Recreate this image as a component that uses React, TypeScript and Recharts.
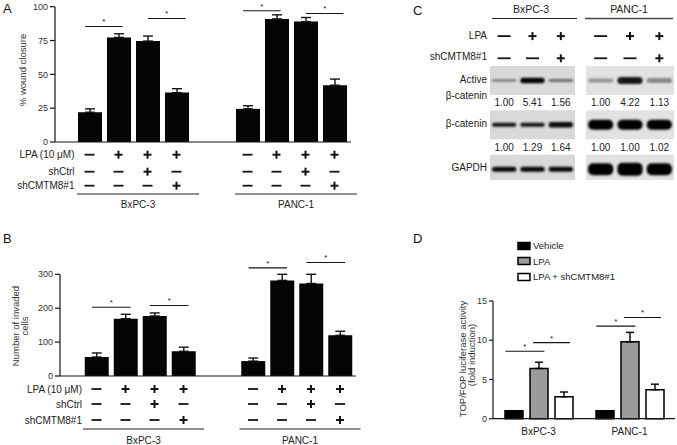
import React from "react";
import {
  BarChart,
  Bar,
  XAxis,
  YAxis,
  ErrorBar,
  LabelList,
  Legend,
  ScatterChart,
  Scatter,
} from "recharts";

const FONT = '"Liberation Sans", Arial, Helvetica, sans-serif';
const INK = "#151515";

// shared
const CELL_LINES = ["BxPC-3", "PANC-1"];
const TABLE_LABELS = ["LPA (10 μM)", "shCtrl", "shCMTM8#1"];
const LPA_ROW = ["−", "+", "+", "+"];
const SHCTRL_ROW = ["−", "−", "+", "−"];
const SHCMTM8_ROW = ["−", "−", "−", "+"];

// A: wound closure (%)
const WOUND_BXPC = [22, 77.3, 74.6, 36.5];
const WOUND_BXPC_ERR = [2.5, 2.7, 3.7, 2.9];
const WOUND_PANC = [24.5, 91, 89, 42];
const WOUND_PANC_ERR = [2.3, 3, 3, 4.5];
const WOUND_SIG_1 = [85.4, 97];
const WOUND_SIG_2 = [91.3, 95];

// B: invaded cells
const INVADED_BXPC = [56, 169, 177, 73];
const INVADED_BXPC_ERR = [12, 13, 9, 12];
const INVADED_PANC = [44, 282, 273, 120];
const INVADED_PANC_ERR = [9, 18, 27, 12];
const INVADED_SIG_1 = [203, 319];
const INVADED_SIG_2 = [208, 335];

// C: western blot
const BLOT_ROWS = ["LPA", "shCMTM8#1", "Active β-catenin", "ratio1", "β-catenin", "ratio2", "GAPDH"];
const BLOT_LPA = ["−", "+", "+"];
const BLOT_SH = ["−", "−", "+"];
const ACTIVE_RATIO_BXPC = ["1.00", "5.41", "1.56"];
const ACTIVE_RATIO_PANC = ["1.00", "4.22", "1.13"];
const TOTAL_RATIO_BXPC = ["1.00", "1.29", "1.64"];
const TOTAL_RATIO_PANC = ["1.00", "1.00", "1.02"];
const ACTIVE_DARK_BXPC = [0.45, 1, 0.5];
const ACTIVE_THICK_BXPC = [2.5, 5.5, 3];
const ACTIVE_DARK_PANC = [0.35, 0.9, 0.4];
const ACTIVE_THICK_PANC = [4, 7, 5];
const TOTAL_DARK_BXPC = [0.9, 0.9, 0.95];
const TOTAL_THICK_BXPC = [4, 4, 5.5];
const TOTAL_DARK_PANC = [1, 1, 1];
const TOTAL_THICK_PANC = [10, 10, 10];
const GAPDH_DARK_BXPC = [0.95, 0.95, 0.95];
const GAPDH_THICK_BXPC = [5, 5, 5];
const GAPDH_DARK_PANC = [1, 1, 1];
const GAPDH_THICK_PANC = [12, 13, 12];

// D: TOP/FOP
const TOPFOP_SERIES = ["Vehicle", "LPA", "LPA + shCMTM8#1"];
const TOPFOP_VEHICLE = [1, 1];
const TOPFOP_LPA = [6.4, 9.8];
const TOPFOP_LPA_ERR = [0.8, 1.2];
const TOPFOP_SH = [2.8, 3.7];
const TOPFOP_SH_ERR = [0.6, 0.7];
const TOPFOP_SIG_1 = [8.6, 11.8];
const TOPFOP_SIG_2 = [9.7, 12.9];

const BAR = 24;
const PITCH = 29;

function fourBarData(vals: number[][], errs: number[][]) {
  return CELL_LINES.map((name, i) => {
    const row: any = { name };
    vals[i].forEach((v, k) => {
      row[`t${k}`] = v;
      row[`e${k}`] = [0, errs[i][k]];
    });
    return row;
  });
}

const woundData = fourBarData([WOUND_BXPC, WOUND_PANC], [WOUND_BXPC_ERR, WOUND_PANC_ERR]);
const invadedData = fourBarData([INVADED_BXPC, INVADED_PANC], [INVADED_BXPC_ERR, INVADED_PANC_ERR]);
const topfopData = CELL_LINES.map((name, i) => ({
  name,
  veh: TOPFOP_VEHICLE[i],
  lpa: TOPFOP_LPA[i],
  lpaErr: [0, TOPFOP_LPA_ERR[i]],
  sh: TOPFOP_SH[i],
  shErr: [0, TOPFOP_SH_ERR[i]],
}));

// significance bracket drawn from a bar's own geometry
function sigContent(heights: number[], pitch: number, a: number, b: number) {
  return (props: any) => {
    const vb = props.viewBox && props.viewBox.width !== undefined ? props.viewBox : props;
    const { x, y, width, height } = vb;
    const value = Number(props.value);
    const idx = props.index;
    if (!height || !value || idx == null) return null;
    const ly = y + height - heights[idx] * (height / value);
    const x1 = x + a * width;
    const x2 = x + pitch + b * width;
    return (
      <g key={`sig-${idx}`}>
        <line x1={x1} x2={x2} y1={ly} y2={ly} stroke={INK} strokeWidth={1.1} />
        <text x={(x1 + x2) / 2} y={ly - 2} textAnchor="middle" fontSize={8} fill={INK} fontFamily={FONT}>
          *
        </text>
      </g>
    );
  };
}

function SignMark({ x, y, sign, minusW }: { x: number; y: number; sign: string; minusW: number }) {
  if (sign === "+") {
    return (
      <g stroke={INK} strokeWidth={2}>
        <line x1={x - 4} y1={y} x2={x + 4} y2={y} />
        <line x1={x} y1={y - 4} x2={x} y2={y + 4} />
      </g>
    );
  }
  return <line x1={x - minusW / 2} y1={y} x2={x + minusW / 2} y2={y} stroke={INK} strokeWidth={1.8} />;
}

type TableCfg = { rowsY: number[]; lineY: number; nameY: number; ext: [number, number]; labelGap: number };

function tableTick(cfg: TableCfg) {
  return (props: any) => {
    const { x, y, payload } = props;
    const ci = CELL_LINES.indexOf(payload.value);
    const rows = [LPA_ROW, SHCTRL_ROW, SHCMTM8_ROW];
    const half = 1.5 * PITCH;
    const left = x - half - cfg.ext[0];
    const right = x + half + cfg.ext[1];
    return (
      <g fontFamily={FONT}>
        {ci === 0 &&
          TABLE_LABELS.map((t, r) => (
            <text key={t} x={x - half - cfg.labelGap} y={y + cfg.rowsY[r]} textAnchor="end" dominantBaseline="central" fontSize={10} fill="#222">
              {t}
            </text>
          ))}
        {rows.map((row, r) =>
          row.map((s, k) => <SignMark key={`${r}-${k}`} x={x + (k - 1.5) * PITCH} y={y + cfg.rowsY[r]} sign={s} minusW={10} />)
        )}
        <line x1={left} x2={right} y1={y + cfg.lineY} y2={y + cfg.lineY} stroke="#222" strokeWidth={1} />
        <text x={(left + right) / 2} y={y + cfg.nameY} textAnchor="middle" dominantBaseline="central" fontSize={10} fill="#222">
          {payload.value}
        </text>
      </g>
    );
  };
}

function FourBarChart(props: any) {
  const { data, width, height, yWidth, margin, xHeight, ticks, pad, sig1, sig2, f1, f2, table } = props;
  return (
    <BarChart width={width} height={height} data={data} margin={margin} barGap={PITCH - BAR}>
      <XAxis
        dataKey="name"
        height={xHeight}
        padding={pad}
        tickSize={0}
        tickMargin={0}
        tickLine={false}
        axisLine={{ stroke: INK, strokeWidth: 1.2 }}
        tick={tableTick(table)}
        interval={0}
      />
      <YAxis
        width={yWidth}
        domain={[ticks[0], ticks[ticks.length - 1]]}
        ticks={ticks}
        interval={0}
        tickSize={5}
        tickMargin={2}
        axisLine={{ stroke: INK, strokeWidth: 1.2 }}
        tickLine={{ stroke: INK, strokeWidth: 1.2 }}
        tick={{ fontSize: 9, fill: "#333", fontFamily: FONT }}
      />
      {[0, 1, 2, 3].map((k) => (
        <Bar key={k} dataKey={`t${k}`} barSize={BAR} fill="#050505" isAnimationActive={false}>
          <ErrorBar dataKey={`e${k}`} width={5} strokeWidth={1.4} stroke={INK} direction="y" />
          {k === 0 && <LabelList content={sigContent(sig1, PITCH, f1[0], f1[1])} />}
          {k === 2 && <LabelList content={sigContent(sig2, PITCH, f2[0], f2[1])} />}
        </Bar>
      ))}
    </BarChart>
  );
}

function TopFopLegend(props: any) {
  const items = [...(props.payload || [])].sort(
    (a: any, b: any) => TOPFOP_SERIES.indexOf(a.value) - TOPFOP_SERIES.indexOf(b.value)
  );
  return (
    <div style={{ fontFamily: FONT, fontSize: 9.5, color: "#222" }}>
      {items.map((it: any) => (
        <div key={it.value} style={{ display: "flex", alignItems: "center", height: 15.5 }}>
          <svg width={15} height={10}>
            <rect x={1} y={1.5} width={12} height={7} fill={it.color} stroke="#000" strokeWidth={1.5} />
          </svg>
          <span style={{ marginLeft: 1 }}>{it.value}</span>
        </div>
      ))}
    </div>
  );
}

function TopFopChart() {
  return (
    <BarChart width={277} height={210} data={topfopData} margin={{ top: 66, right: 2, bottom: 0, left: 0 }} barGap={7}>
      <XAxis
        dataKey="name"
        height={26.3}
        tickSize={0}
        tickMargin={0}
        tickLine={false}
        axisLine={{ stroke: INK, strokeWidth: 1.2 }}
        tick={(p: any) => (
          <text x={p.x} y={p.y + 13} textAnchor="middle" dominantBaseline="central" fontSize={10} fill="#222" fontFamily={FONT}>
            {p.payload.value}
          </text>
        )}
      />
      <YAxis
        width={93}
        domain={[0, 15]}
        ticks={[0, 5, 10, 15]}
        interval={0}
        tickSize={4}
        tickMargin={2}
        axisLine={{ stroke: INK, strokeWidth: 1.2 }}
        tickLine={{ stroke: INK, strokeWidth: 1.2 }}
        tick={{ fontSize: 9, fill: "#333", fontFamily: FONT }}
      />
      <Legend
        layout="horizontal"
        verticalAlign="middle"
        align="center"
        wrapperStyle={{ left: 117, top: 3, width: 150, height: 48 }}
        content={TopFopLegend}
      />
      <Bar dataKey="veh" name={TOPFOP_SERIES[0]} barSize={18} fill="#000" stroke="#000" strokeWidth={1.5} isAnimationActive={false}>
        <LabelList content={sigContent(TOPFOP_SIG_1, 25, 0.02, 0.8)} />
      </Bar>
      <Bar dataKey="lpa" name={TOPFOP_SERIES[1]} barSize={18} fill="#9b9b9b" stroke="#000" strokeWidth={1.5} isAnimationActive={false}>
        <ErrorBar dataKey="lpaErr" width={4} strokeWidth={1.4} stroke="#000" direction="y" />
        <LabelList content={sigContent(TOPFOP_SIG_2, 25, 0.17, 0.83)} />
      </Bar>
      <Bar dataKey="sh" name={TOPFOP_SERIES[2]} barSize={18} fill="#fff" stroke="#000" strokeWidth={1.5} isAnimationActive={false}>
        <ErrorBar dataKey="shErr" width={4} strokeWidth={1.4} stroke="#000" direction="y" />
      </Bar>
    </BarChart>
  );
}

// ---- blot (C) ----
function BlotChart(props: any) {
  const { width, bg, activeRatio, totalRatio, activeDark, activeThick, totalDark, totalThick, gapdhDark, gapdhThick } = props;
  const laneW = width / 3;
  const rowOf = (name: string) => BLOT_ROWS.indexOf(name);
  const signs = [
    ...BLOT_LPA.map((s, i) => ({ lane: i, row: rowOf("LPA"), sign: s })),
    ...BLOT_SH.map((s, i) => ({ lane: i, row: rowOf("shCMTM8#1"), sign: s })),
  ];
  const bands = [
    ...activeDark.map((d: number, i: number) => ({ lane: i, row: rowOf("Active β-catenin"), dark: d, thick: activeThick[i] })),
    ...totalDark.map((d: number, i: number) => ({ lane: i, row: rowOf("β-catenin"), dark: d, thick: totalThick[i] })),
    ...gapdhDark.map((d: number, i: number) => ({ lane: i, row: rowOf("GAPDH"), dark: d, thick: gapdhThick[i] })),
  ];
  const ratios = [
    ...activeRatio.map((t: string, i: number) => ({ lane: i, row: rowOf("ratio1"), text: t })),
    ...totalRatio.map((t: string, i: number) => ({ lane: i, row: rowOf("ratio2"), text: t })),
  ];
  return (
    <ScatterChart width={width} height={155.3} margin={{ top: 0, right: 0, bottom: 0, left: 0 }}>
      <XAxis type="number" dataKey="lane" domain={[-0.5, 2.5]} hide />
      <YAxis type="number" dataKey="row" domain={[-0.5, 6.5]} reversed hide />
      <Scatter
        data={bands}
        isAnimationActive={false}
        shape={(p: any) => {
          const bw = laneW * 0.86;
          const t = p.payload.thick;
          return (
            <g>
              <rect x={p.cx - laneW / 2 - 0.5} y={p.cy - 14.5} width={laneW + 1} height={29} fill={bg} />
              <rect
                x={p.cx - bw / 2}
                y={p.cy - t / 2}
                width={bw}
                height={t}
                rx={Math.min(t / 2, 5)}
                fill="#000"
                fillOpacity={p.payload.dark}
                filter="url(#blotBlur)"
              />
            </g>
          );
        }}
      />
      <Scatter
        data={signs}
        isAnimationActive={false}
        shape={(p: any) => <SignMark x={p.cx} y={p.cy} sign={p.payload.sign} minusW={13} />}
      />
      <Scatter
        data={ratios}
        isAnimationActive={false}
        shape={(p: any) => (
          <text x={p.cx} y={p.cy} textAnchor="middle" dominantBaseline="central" fontSize={10} fill="#222" fontFamily={FONT}>
            {p.payload.text}
          </text>
        )}
      />
    </ScatterChart>
  );
}

function RotTitle({ x, y, text }: { x: number; y: number; text: string }) {
  return (
    <text
      transform={`translate(${x},${y}) rotate(-90)`}
      textAnchor="middle"
      dominantBaseline="central"
      fontSize={9.5}
      fill="#333"
    >
      {text}
    </text>
  );
}

export default function App() {
  const rowLabel = (t: string, y: number) => (
    <text key={`${t}-${y}`} x={487} y={y} textAnchor="end" dominantBaseline="central" fontSize={10} fill="#222">
      {t}
    </text>
  );
  return (
    <div
      style={{
        position: "absolute",
        left: 0,
        top: 0,
        width: 677,
        height: 445,
        background: "#fff",
        overflow: "hidden",
        fontFamily: FONT,
      }}
    >
      <svg width={0} height={0} style={{ position: "absolute" }}>
        <defs>
          <filter id="blotBlur" x="-30%" y="-150%" width="160%" height="400%">
            <feGaussianBlur stdDeviation="1.1" />
          </filter>
        </defs>
      </svg>

      <div style={{ position: "absolute", left: 0, top: 0 }}>
        <FourBarChart
          data={woundData}
          width={380}
          height={215}
          yWidth={55}
          xHeight={73}
          margin={{ top: 6.7, right: 29, bottom: 0, left: 0 }}
          ticks={[0, 25, 50, 75, 100]}
          pad={{ left: -1, right: -19 }}
          sig1={WOUND_SIG_1}
          sig2={WOUND_SIG_2}
          f1={[0.3, 0.65]}
          f2={[0.5, 0.85]}
          table={{ rowsY: [12.7, 29.7, 43.7], lineY: 52, nameY: 62, ext: [12.5, 22.5], labelGap: 15 }}
        />
      </div>

      <div style={{ position: "absolute", left: 0, top: 220 }}>
        <FourBarChart
          data={invadedData}
          width={380}
          height={225}
          yWidth={60}
          xHeight={69}
          margin={{ top: 54.3, right: 24, bottom: 0, left: 0 }}
          ticks={[0, 100, 200, 300]}
          pad={{ left: 1.75, right: -18.75 }}
          sig1={INVADED_SIG_1}
          sig2={INVADED_SIG_2}
          f1={[0.3, 0.7]}
          f2={[0.3, 0.7]}
          table={{ rowsY: [13, 28, 44], lineY: 53, nameY: 64, ext: [13.5, 20.5], labelGap: 14.5 }}
        />
      </div>

      <div style={{ position: "absolute", left: 490, top: 24.5 }}>
        <BlotChart
          width={85}
          bg="#d9d9d9"
          activeRatio={ACTIVE_RATIO_BXPC}
          totalRatio={TOTAL_RATIO_BXPC}
          activeDark={ACTIVE_DARK_BXPC}
          activeThick={ACTIVE_THICK_BXPC}
          totalDark={TOTAL_DARK_BXPC}
          totalThick={TOTAL_THICK_BXPC}
          gapdhDark={GAPDH_DARK_BXPC}
          gapdhThick={GAPDH_THICK_BXPC}
        />
      </div>
      <div style={{ position: "absolute", left: 586, top: 24.5 }}>
        <BlotChart
          width={88}
          bg="#e2e2e2"
          activeRatio={ACTIVE_RATIO_PANC}
          totalRatio={TOTAL_RATIO_PANC}
          activeDark={ACTIVE_DARK_PANC}
          activeThick={ACTIVE_THICK_PANC}
          totalDark={TOTAL_DARK_PANC}
          totalThick={TOTAL_THICK_PANC}
          gapdhDark={GAPDH_DARK_PANC}
          gapdhThick={GAPDH_THICK_PANC}
        />
      </div>

      <div style={{ position: "absolute", left: 400, top: 235 }}>
        <TopFopChart />
      </div>

      <svg
        width={677}
        height={445}
        style={{ position: "absolute", left: 0, top: 0, pointerEvents: "none" }}
        fontFamily={FONT}
      >
        <text x={3} y={13} fontSize={13} fill="#111">A</text>
        <text x={3} y={243} fontSize={13} fill="#111">B</text>
        <text x={413} y={15} fontSize={13} fill="#111">C</text>
        <text x={413} y={243} fontSize={13} fill="#111">D</text>

        <RotTitle x={22} y={70} text="% wound closure" />
        <RotTitle x={15} y={326} text="Number of invaded" />
        <RotTitle x={24} y={326} text="cells" />
        <RotTitle x={462} y={359} text="TOP/FOP luciferase activity" />
        <RotTitle x={471.5} y={355} text="(fold induction)" />

        <text x={531} y={8.5} textAnchor="middle" dominantBaseline="central" fontSize={10.5} fill="#222">BxPC-3</text>
        <line x1={492} x2={577} y1={18.5} y2={18.5} stroke="#222" strokeWidth={1.1} />
        <text x={629} y={8.5} textAnchor="middle" dominantBaseline="central" fontSize={10.5} fill="#222">PANC-1</text>
        <line x1={585} x2={673} y1={18.5} y2={18.5} stroke="#444" strokeWidth={1.4} />
        {rowLabel("LPA", 35)}
        {rowLabel("shCMTM8#1", 56)}
        {rowLabel("Active", 79)}
        {rowLabel("β-catenin", 95)}
        {rowLabel("β-catenin", 123)}
        {rowLabel("GAPDH", 167)}
      </svg>
    </div>
  );
}
